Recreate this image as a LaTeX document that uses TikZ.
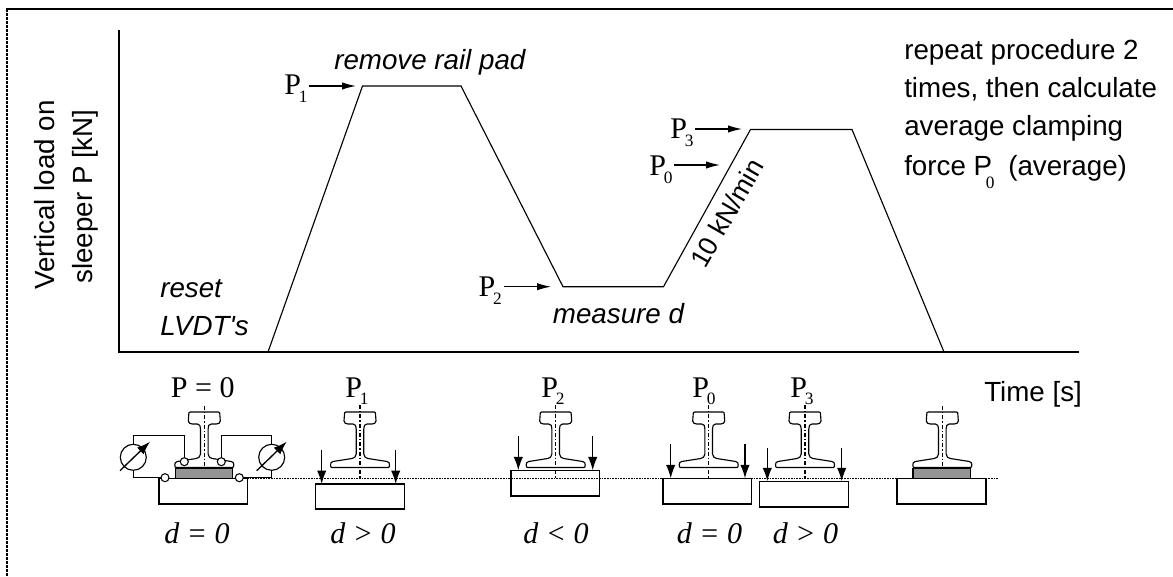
\documentclass[tikz,border=0pt]{standalone}
\usepackage{fontspec}
\setmainfont{Liberation Serif}
\newfontfamily\arial{Liberation Sans}
\usetikzlibrary{arrows.meta,shapes.geometric}
\newcommand{\serifsz}{\fontsize{22.5}{26}\selectfont}
\newcommand{\subsz}{\fontsize{13}{16}\selectfont}
\newcommand{\Pn}[1]{P\kern-1.6pt\raisebox{-5.5pt}{\subsz #1}}
\tikzset{
  x=0.75pt,y=-0.75pt,
  line/.style={line width=0.85pt,black},
  sansT/.style={inner sep=0pt,anchor=base west,font=\arial\fontsize{20.8}{24}\selectfont},
  sansI/.style={inner sep=0pt,anchor=base west,font=\arial\itshape\fontsize{20.8}{24}\selectfont},
  serifT/.style={inner sep=0pt,anchor=base west,font=\serifsz},
  serifI/.style={inner sep=0pt,anchor=base west,font=\itshape\serifsz},
  arr/.style={line,-{Latex[length=10.5pt,width=5.5pt]}},
  darr/.style={line width=1pt,black,-{Latex[length=10pt,width=7pt]}},
  centre/.style={line width=0.8pt,black,dash pattern=on 3pt off 1.5pt on 1pt off 1.5pt},
  sleeper/.style={line width=0.9pt,black},
  padshape/.style={fill=black!42,draw=black,line width=0.8pt},
  hinge/.style={draw=black,fill=white,line width=0.8pt},
  pics/rail/.style={code={
    \draw[line,fill=white,line join=round]
      (-14,0) -- (14,0) .. controls (15.5,0) and (15.5,1) .. (15.5,2) -- (16,9)
      .. controls (16,11) and (14,12) .. (12,12) -- (7,12)
      .. controls (4.5,12) and (3.8,14) .. (3.8,17) -- (3.8,42)
      .. controls (3.8,45) and (6,46) .. (8,46.5) -- (27,49.5)
      .. controls (29,50) and (29.5,51) .. (29.5,53)
      .. controls (29.5,55) and (29,55.5) .. (28,55.5) -- (-28,55.5)
      .. controls (-29,55.5) and (-29.5,55) .. (-29.5,53)
      .. controls (-29.5,51) and (-29,50) .. (-27,49.5) -- (-8,46.5)
      .. controls (-6,46) and (-3.8,45) .. (-3.8,42) -- (-3.8,17)
      .. controls (-3.8,14) and (-4.5,12) .. (-7,12) -- (-12,12)
      .. controls (-14,12) and (-16,11) .. (-16,9) -- (-15.5,2)
      .. controls (-15.5,1) and (-15.5,0) .. (-14,0) -- cycle;
  }}
}
\begin{document}
\begin{tikzpicture}
\useasboundingbox (0,0) rectangle (1173,577);
% frame
\draw[line width=1.6pt,black] (6,9) -- (1173,9);
\draw[line width=1.5pt,black,dash pattern=on 2.2pt off 0.8pt] (6.5,9) -- (6.5,577);
% axes and load curve
\coordinate (origin) at (119,352);
\coordinate (ytop) at (119,30);
\coordinate (xend) at (1079,352);
\draw[line] (ytop) -- (origin) -- (xend);
\draw[line,line join=miter] (268,352) -- (362.5,86) -- (461,86) -- (563,286.7) -- (663.5,286.7) -- (750.5,129.5) -- (852,129.5) -- (944,352);
% axis and curve labels
\node[sansT,anchor=base,rotate=90] (ylab1) at (54,195) {Vertical load on};
\node[sansT,anchor=base,rotate=90] (ylab2) at (92.5,196.5) {sleeper P [kN]};
\node[sansT] (timelab) at (984,401.5) {Time [s]};
\node[sansI] (resetlab) at (160,297.7) {reset};
\node[sansI] (lvdtlab) at (160,335.7) {LVDT's};
\node[sansI] (removelab) at (334,70) {remove rail pad};
\node[sansI] (measurelab) at (552.7,323.3) {measure d};
\node[sansT,anchor=base,rotate=60,font=\arial\fontsize{20}{24}\selectfont] (ratelab) at (735,218) {10 kN/min};
\node[sansT] (note1) at (904,59.3) {repeat procedure 2};
\node[sansT] (note2) at (904,97.5) {times, then calculate};
\node[sansT] (note3) at (904,136) {average clamping};
\node[sansT] (note4) at (904,175.5) {force P};
\node[serifT,font=\subsz] (note4sub) at (985.7,189) {0};
\node[sansT] (note4b) at (1008,175.5) {(average)};
% level labels on the curve
\node[serifT] (p1) at (284,95) {\Pn{1}};
\node[serifT] (p2) at (478.3,296.7) {\Pn{2}};
\node[serifT] (p0) at (649,176) {\Pn{0}};
\node[serifT] (p3) at (670,139) {\Pn{3}};
\coordinate (p1t) at (356,86); \coordinate (p1s) at (309,86);
\coordinate (p2t) at (551,286.7); \coordinate (p2s) at (504,286.7);
\coordinate (p0t) at (720,165); \coordinate (p0s) at (674,165);
\coordinate (p3t) at (742,129); \coordinate (p3s) at (695,129);
\draw[arr] (p1s) -- (p1t);
\draw[arr] (p2s) -- (p2t);
\draw[arr] (p0s) -- (p0t);
\draw[arr] (p3s) -- (p3t);
% reference level
\draw[line width=0.8pt,black,dash pattern=on 1.2pt off 0.8pt] (247,478.3) -- (998,478.3);
% sleepers
\draw[sleeper] (159,478.3) rectangle (247.3,504);
\draw[sleeper] (315.3,484) rectangle (404.3,509);
\draw[sleeper] (511,470.3) rectangle (599.3,496);
\draw[sleeper] (663,478.3) rectangle (751.3,504);
\draw[sleeper] (759.7,481.3) rectangle (848.3,507);
\draw[sleeper] (897,478.3) rectangle (986,504);
% pads
\draw[padshape] (175.3,468.5) rectangle (232.7,478.3);
\draw[padshape] (913,468.5) rectangle (970.7,478.3);
% rails
\pic at (204.3,412) {rail};
\pic at (360,412) {rail};
\pic at (555.7,412) {rail};
\pic at (708.7,412) {rail};
\pic at (805,412) {rail};
\pic at (942.3,412) {rail};
% centre lines
\draw[centre] (204.3,406) -- (204.3,467);
\draw[centre] (360,405) -- (360,478);
\draw[centre] (555.7,405) -- (555.7,478);
\draw[centre] (708.7,405) -- (708.7,478);
\draw[centre] (805,405) -- (805,478);
\draw[centre] (942.3,406) -- (942.3,467);
% load arrows
\draw[darr] (321.7,450) -- (321.7,484);
\draw[darr] (395.7,450) -- (395.7,484);
\draw[darr] (518.3,436) -- (518.3,470.3);
\draw[darr] (592.7,436) -- (592.7,470.3);
\draw[darr] (670.7,444) -- (670.7,478.3);
\draw[darr] (745,444) -- (745,478.3);
\draw[darr] (767.3,448) -- (767.3,481.3);
\draw[darr] (841.7,448) -- (841.7,481.3);
% LVDT frames
\draw[line] (133.3,457) |- (184.3,435.3) -- (184.3,461.7);
\draw[line] (133.3,457) -- (133.3,477.7) -- (165,477.7);
\draw[line] (271.7,457) |- (221.3,435.3) -- (221.3,461.7);
\draw[line] (271.7,457) -- (271.7,477.7) -- (239.3,477.7);
\node[hinge,circle,inner sep=0pt,minimum size=6pt] (h1) at (184.3,461.7) {};
\node[hinge,circle,inner sep=0pt,minimum size=6pt] (h2) at (221.3,461.7) {};
\node[hinge,ellipse,inner sep=0pt,minimum size=6pt] (h3) at (165,477.7) {};
\node[hinge,ellipse,inner sep=0pt,minimum size=6pt] (h4) at (239.3,477.7) {};
% dials
\node[draw=black,fill=white,line width=0.85pt,circle,inner sep=0pt,minimum size=19.5pt] (dialL) at (133.3,457.3) {};
\node[draw=black,fill=white,line width=0.85pt,circle,inner sep=0pt,minimum size=19.5pt] (dialR) at (271.7,457.3) {};
\coordinate (dLs) at (120,470.7); \coordinate (dLt) at (150,441.7);
\coordinate (dRs) at (256.7,470.7); \coordinate (dRt) at (286.7,441.7);
\draw[darr] (dLs) -- (dLt);
\draw[darr] (dRs) -- (dRt);
% labels above and below
\node[serifT] (s1) at (170.7,397.3) {P = 0};
\node[serifT] (s2) at (345,397.3) {\Pn{1}};
\node[serifT] (s3) at (541,397.3) {\Pn{2}};
\node[serifT] (s4) at (692,397.3) {\Pn{0}};
\node[serifT] (s5) at (790,397.3) {\Pn{3}};
\node[serifI] (d1) at (164,543) {d = 0};
\node[serifI] (d2) at (330,543) {d > 0};
\node[serifI] (d3) at (523,543) {d < 0};
\node[serifI] (d4) at (676.7,543) {d = 0};
\node[serifI] (d5) at (772.7,543) {d > 0};
\end{tikzpicture}
\end{document}
